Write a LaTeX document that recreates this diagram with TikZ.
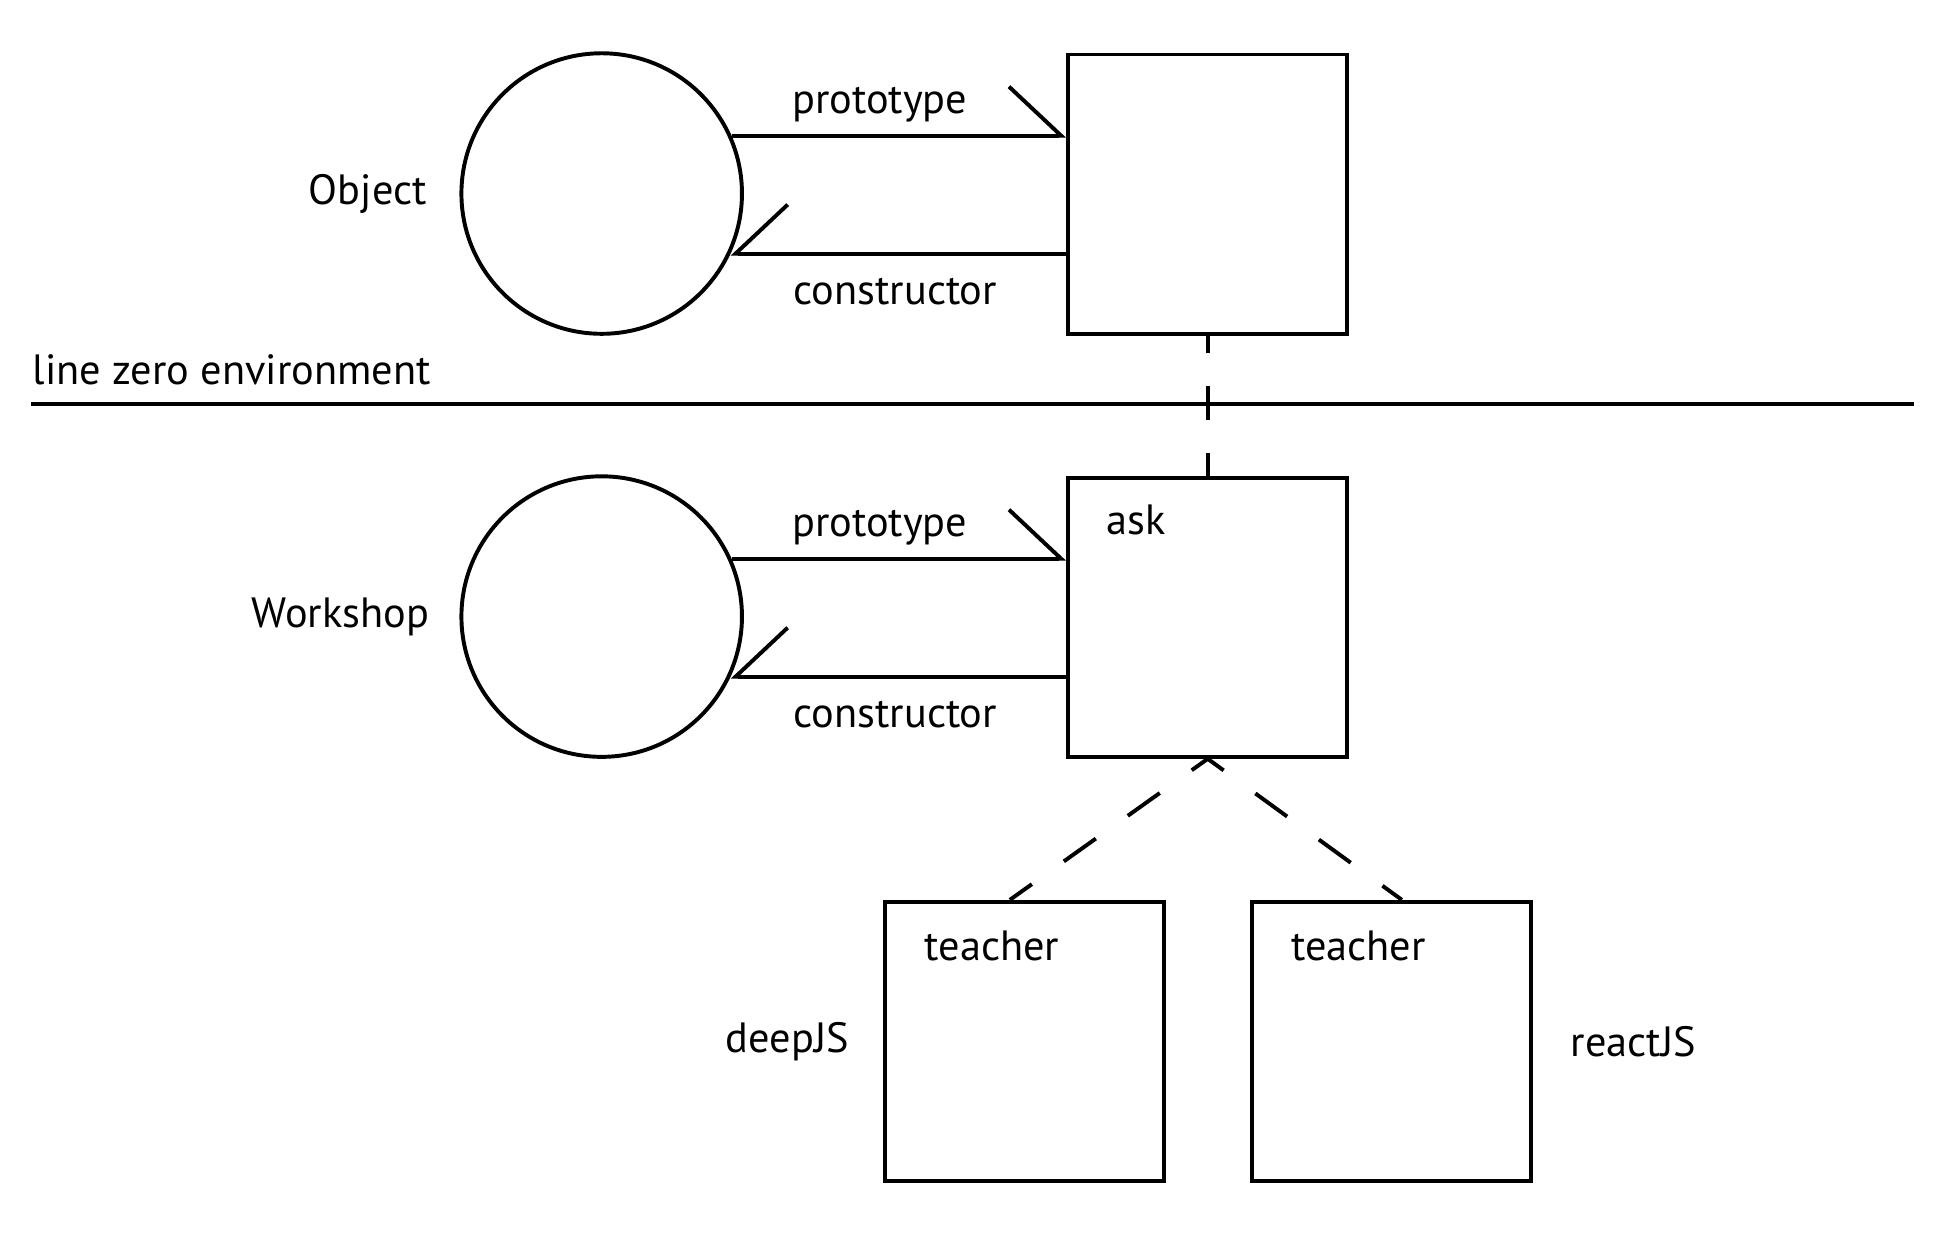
\documentclass[tikz,border=0pt]{standalone}
\usepackage{fontspec}
\setmainfont{PT Sans}
\usetikzlibrary{arrows.meta,positioning,calc}

\begin{document}
\begin{tikzpicture}[x=0.01cm, y=-0.01cm, line width=0.9pt, font=\fontsize{9.7}{11}\selectfont,
    onode/.style={draw,circle,minimum size=2.26cm,inner sep=0pt},
    bnode/.style={draw,minimum size=2.25cm,inner sep=0pt},
    tnode/.style={inner sep=0pt},
    harp/.style={-{Straight Barb[harpoon,length=0.42cm,width=0.79cm]}},
    harpswap/.style={-{Straight Barb[harpoon,swap,length=0.42cm,width=0.79cm]}},
    dline/.style={dash pattern=on 9pt off 9pt, dash phase=4.5pt}]
    \useasboundingbox (0,0) rectangle (1567,994.7);

    % top: Object
    \node[onode] (obj) at (485,156) {};
    \node[bnode] (pbox) at (973.5,156.5) {};
    \node[tnode, left=0.25cm of obj] (objlbl) {Object};
    \draw[harp] (obj.24) -- (obj.24 -| pbox.west) node (objproto) [tnode, pos=0.443, above, yshift=0.09cm] {prototype};
    \draw[harpswap] (pbox.west |- obj.-25) -- (obj.-25) node (objcons) [tnode, pos=0.509, below, yshift=-0.18cm] {constructor};

    % line zero
    \node[tnode, anchor=west] (envlbl) at (25,298) {line zero environment};
    \coordinate (hl) at (25,326);
    \coordinate (hr) at (1543,326);
    \draw (hl) -- (hr);

    % Workshop
    \node[onode] (wrk) at (485,497) {};
    \node[bnode] (wbox) at (973.5,497.5) {};
    \node[tnode, left=0.23cm of wrk] (wrklbl) {Workshop};
    \node[tnode, anchor=west] (asklbl) at ($(wbox.north west)+(31,36)$) {ask};
    \draw[harp] (wrk.24) -- (wrk.24 -| wbox.west) node (wrkproto) [tnode, pos=0.443, above, yshift=0.09cm] {prototype};
    \draw[harpswap] (wbox.west |- wrk.-25) -- (wrk.-25) node (wrkcons) [tnode, pos=0.509, below, yshift=-0.18cm] {constructor};

    % instances
    \node[bnode] (deep) at (826,839.5) {};
    \node[bnode] (react) at (1121.5,839.5) {};
    \node[tnode, anchor=west] (deepteach) at ($(deep.north west)+(32,37)$) {teacher};
    \node[tnode, anchor=west] (reactteach) at ($(react.north west)+(32,37)$) {teacher};
    \node[tnode, left=0.26cm of deep] (deeplbl) {deepJS};
    \node[tnode, right=0.29cm of react] (reactlbl) {reactJS};

   \begin{scope}[dline]
    \draw[dash pattern=on 7.7pt off 7.7pt, dash phase=3.85pt] (pbox.south) -- (wbox.north);
    \draw (wbox.south) -- ($(deep.north)+(-12,0)$);
    \draw (wbox.south) -- ($(react.north)+(8.5,0)$);
   \end{scope}
\end{tikzpicture}
\end{document}
